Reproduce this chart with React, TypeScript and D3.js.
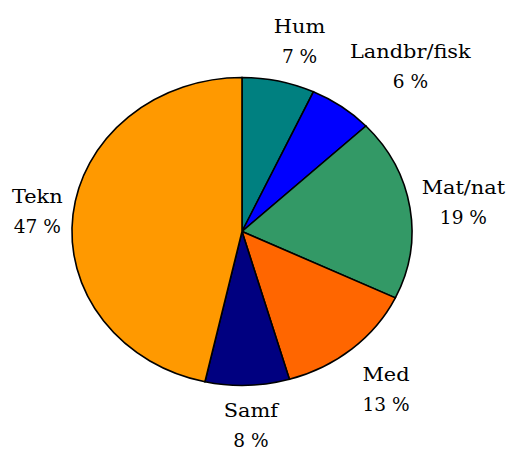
import React from "react";
import * as d3 from "d3";

const categories = ["Hum", "Landbr/fisk", "Mat/nat", "Med", "Samf", "Tekn"];
const values = [6.9, 6.1, 19.1, 13.4, 8.0, 46.5];
const colors = ["#008080", "#0000FF", "#339966", "#FF6600", "#000080", "#FF9900"];
// small layout nudges for label placement (px)
const labelNudgeX = [10, 39, 3, 1, 2, 15];
const labelNudgeY = [12, 4, 8, 12, 0, 8];

const W = 507;
const H = 450;
const cx = 242;
const cy = 231.5;
const rx = 170;
const ry = 154;
const labelK = 1.3;
const FONT = "DejaVu Serif";

export default function App() {
  const total = d3.sum(values);
  const pie = d3
    .pie<number>()
    .sort(null)
    .value((d) => d)
    .startAngle(0)
    .endAngle(2 * Math.PI);
  const arcs = pie(values);
  const arc = d3.arc<d3.PieArcDatum<number>>().innerRadius(0).outerRadius(1);

  return (
    <svg
      width={W}
      height={H}
      style={{ position: "absolute", left: 0, top: 0, display: "block", background: "#fff" }}
    >
      <g transform={`translate(${cx},${cy}) scale(${rx},${ry})`}>
        {arcs.map((a, i) => (
          <path
            key={i}
            d={arc(a) || ""}
            fill={colors[i]}
            stroke="#000"
            strokeWidth={1.6}
            vectorEffect="non-scaling-stroke"
          />
        ))}
      </g>
      {arcs.map((a, i) => {
        const mid = (a.startAngle + a.endAngle) / 2;
        const x = cx + rx * labelK * Math.sin(mid) + labelNudgeX[i];
        const y = cy - ry * labelK * Math.cos(mid) + labelNudgeY[i];
        const pct = Math.round((values[i] / total) * 100);
        return (
          <g key={i} transform={`translate(${x},${y})`} fontFamily={FONT} fontSize={18} fill="#000">
            <text transform="translate(0,-15) scale(1.16,1)" textAnchor="middle">
              {categories[i]}
            </text>
            <text transform="translate(0,15) scale(1.03,1)" textAnchor="middle">
              {`${pct} %`}
            </text>
          </g>
        );
      })}
    </svg>
  );
}
